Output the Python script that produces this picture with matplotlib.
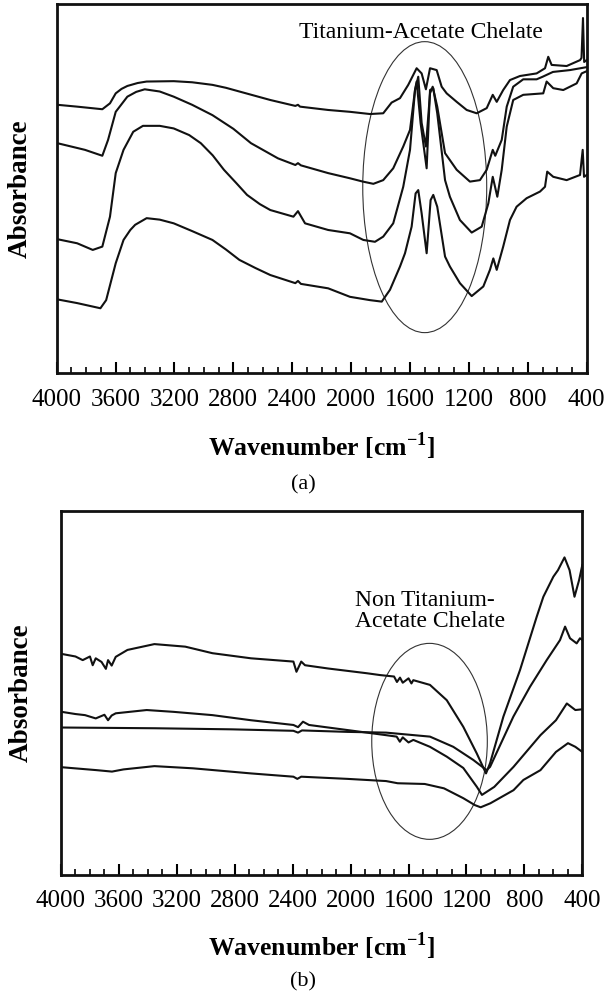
import matplotlib
matplotlib.use("Agg")
import matplotlib.pyplot as plt
from matplotlib.patches import Ellipse
from matplotlib.ticker import MultipleLocator

plt.rcParams['font.family'] = ['Liberation Serif', 'DejaVu Serif']
plt.rcParams['mathtext.fontset'] = 'custom'
plt.rcParams['mathtext.rm'] = 'Liberation Serif'
plt.rcParams['mathtext.bf'] = 'Liberation Serif:bold'

# ---- panel (a): titanium-acetate chelate spectra (arbitrary absorbance) ----
a1_wn = [3995, 3861, 3690, 3638, 3599, 3560, 3520, 3450, 3389, 3205, 3080, 2942, 2850, 2759, 2549,
         2379, 2361, 2347, 2156, 2008, 1872, 1782, 1725, 1668, 1612, 1555, 1521, 1492, 1464, 1419,
         1385, 1351, 1283, 1215, 1147, 1079, 1038, 1011, 967, 921, 853, 740, 683, 661, 638, 536,
         445, 435, 425, 417, 400]
a1_ab = [0.727, 0.722, 0.715, 0.731, 0.758, 0.770, 0.778, 0.786, 0.790, 0.791, 0.788, 0.781, 0.773, 0.763, 0.740,
         0.724, 0.727, 0.722, 0.713, 0.708, 0.702, 0.704, 0.733, 0.745, 0.781, 0.826, 0.812, 0.769, 0.826, 0.821,
         0.776, 0.758, 0.735, 0.713, 0.704, 0.718, 0.754, 0.735, 0.767, 0.794, 0.805, 0.812, 0.826, 0.857, 0.835,
         0.832, 0.848, 0.854, 0.962, 0.843, 0.848]

a2_wn = [3995, 3808, 3690, 3651, 3599, 3520, 3460, 3402, 3300, 3205, 3080, 2942, 2800, 2680, 2497,
         2379, 2361, 2341, 2156, 2008, 1920, 1849, 1782, 1714, 1646, 1600, 1566, 1544, 1521, 1492,
         1464, 1446, 1415, 1362, 1283, 1193, 1125, 1079, 1038, 1021, 977, 943, 899, 831, 740, 699,
         629, 514, 400]
a2_ab = [0.623, 0.605, 0.589, 0.632, 0.708, 0.749, 0.762, 0.769, 0.763, 0.749, 0.727, 0.699, 0.662, 0.623, 0.582,
         0.564, 0.569, 0.563, 0.542, 0.528, 0.519, 0.513, 0.523, 0.555, 0.614, 0.659, 0.767, 0.803, 0.678, 0.614,
         0.758, 0.776, 0.722, 0.596, 0.551, 0.519, 0.523, 0.551, 0.605, 0.589, 0.632, 0.722, 0.776, 0.796, 0.796,
         0.803, 0.816, 0.821, 0.829]

a3_wn = [3995, 3861, 3755, 3690, 3638, 3599, 3546, 3480, 3414, 3300, 3205, 3100, 3021, 2940, 2864,
         2780, 2707, 2620, 2549, 2392, 2361, 2313, 2156, 2008, 1917, 1838, 1782, 1714, 1646, 1600,
         1566, 1555, 1528, 1487, 1464, 1442, 1415, 1362, 1329, 1261, 1181, 1113, 1068, 1038, 1007,
         977, 943, 899, 831, 695, 672, 627, 559, 468, 434, 400]
a3_ab = [0.363, 0.352, 0.334, 0.343, 0.424, 0.542, 0.605, 0.654, 0.670, 0.670, 0.663, 0.645, 0.623, 0.590, 0.551,
         0.515, 0.483, 0.458, 0.442, 0.424, 0.439, 0.406, 0.388, 0.379, 0.361, 0.356, 0.370, 0.406, 0.505, 0.605,
         0.767, 0.790, 0.677, 0.555, 0.767, 0.772, 0.704, 0.523, 0.478, 0.415, 0.381, 0.397, 0.460, 0.532, 0.478,
         0.551, 0.668, 0.740, 0.754, 0.758, 0.790, 0.772, 0.767, 0.785, 0.812, 0.818]

a4_wn = [3995, 3861, 3703, 3664, 3599, 3546, 3500, 3467, 3389, 3300, 3205, 3080, 2942, 2850, 2759,
         2650, 2549, 2379, 2361, 2341, 2156, 2008, 1872, 1792, 1736, 1668, 1634, 1589, 1562, 1544,
         1521, 1487, 1460, 1442, 1415, 1362, 1329, 1261, 1181, 1102, 1057, 1034, 1011, 967, 921,
         876, 808, 717, 683, 668, 627, 536, 445, 427, 418, 400]
a4_ab = [0.200, 0.190, 0.176, 0.198, 0.298, 0.361, 0.388, 0.402, 0.420, 0.416, 0.406, 0.385, 0.361, 0.335, 0.307,
         0.285, 0.266, 0.244, 0.250, 0.242, 0.230, 0.207, 0.198, 0.194, 0.226, 0.289, 0.325, 0.397, 0.487, 0.496,
         0.433, 0.325, 0.469, 0.483, 0.451, 0.316, 0.289, 0.244, 0.209, 0.235, 0.280, 0.311, 0.280, 0.343, 0.415,
         0.451, 0.474, 0.492, 0.505, 0.546, 0.532, 0.523, 0.537, 0.605, 0.532, 0.537]

# ---- panel (b): non titanium-acetate chelate spectra ----
b1_wn = [3995, 3900, 3850, 3800, 3781, 3760, 3720, 3690, 3675, 3650, 3622, 3541, 3355, 3142, 2954,
         2688, 2395, 2374, 2341, 2315, 2155, 1888, 1797, 1700, 1680, 1659, 1640, 1600, 1580, 1567,
         1452, 1336, 1222, 1129, 1065, 1037, 945, 830, 715, 669, 600, 568, 523, 488, 454, 422, 400]
b1_ab = [0.607, 0.600, 0.590, 0.600, 0.576, 0.595, 0.585, 0.566, 0.590, 0.575, 0.599, 0.618, 0.634, 0.627, 0.609,
         0.595, 0.586, 0.558, 0.586, 0.576, 0.567, 0.554, 0.549, 0.545, 0.530, 0.542, 0.528, 0.540, 0.526, 0.535,
         0.522, 0.480, 0.407, 0.334, 0.279, 0.307, 0.435, 0.563, 0.709, 0.764, 0.819, 0.837, 0.872, 0.837, 0.764,
         0.810, 0.851]

b2_wn = [3995, 3900, 3834, 3760, 3700, 3675, 3650, 3622, 3408, 3222, 2954, 2688, 2395, 2363, 2329,
         2287, 2021, 1755, 1682, 1660, 1640, 1600, 1567, 1452, 1336, 1222, 1128, 1093, 1008, 875,
         689, 582, 507, 448, 400]
b2_ab = [0.448, 0.442, 0.439, 0.430, 0.440, 0.425, 0.438, 0.444, 0.453, 0.448, 0.439, 0.425, 0.412, 0.406, 0.421,
         0.412, 0.398, 0.384, 0.380, 0.366, 0.378, 0.364, 0.371, 0.352, 0.325, 0.294, 0.242, 0.220, 0.242, 0.297,
         0.384, 0.425, 0.471, 0.453, 0.455]

b3_wn = [3995, 3355, 2821, 2395, 2363, 2336, 2021, 1755, 1452, 1291, 1153, 1061, 1037, 876, 761,
         646, 554, 519, 485, 439, 416, 400]
b3_ab = [0.405, 0.403, 0.400, 0.396, 0.391, 0.397, 0.393, 0.391, 0.380, 0.352, 0.316, 0.288, 0.297, 0.435, 0.517,
         0.590, 0.645, 0.682, 0.650, 0.636, 0.650, 0.645]

b4_wn = [3995, 3755, 3648, 3568, 3355, 3088, 2688, 2395, 2368, 2341, 2021, 1755, 1675, 1488, 1355,
         1222, 1142, 1102, 1035, 875, 807, 689, 582, 499, 448, 400]
b4_ab = [0.296, 0.288, 0.284, 0.290, 0.299, 0.293, 0.279, 0.270, 0.264, 0.270, 0.264, 0.258, 0.252, 0.250, 0.238,
         0.211, 0.192, 0.186, 0.197, 0.233, 0.261, 0.288, 0.338, 0.362, 0.352, 0.338]

x_ticks = [4000, 3600, 3200, 2800, 2400, 2000, 1600, 1200, 800, 400]

fig = plt.figure(figsize=(6.05, 9.98), dpi=100)
ax1 = fig.add_axes([0.0937, 0.6260, 0.876, 0.370])
ax2 = fig.add_axes([0.1008, 0.1232, 0.8617, 0.365])

for wn, ab in [(a1_wn, a1_ab), (a2_wn, a2_ab), (a3_wn, a3_ab), (a4_wn, a4_ab)]:
    ax1.plot(wn, ab, color='#111111', lw=1.5)
for wn, ab in [(b1_wn, b1_ab), (b2_wn, b2_ab), (b3_wn, b3_ab), (b4_wn, b4_ab)]:
    ax2.plot(wn, ab, color='#111111', lw=1.5)

ax1.add_patch(Ellipse((1500, 0.504), 842, 0.788, fill=False, lw=0.8, color='#333333'))
ax2.add_patch(Ellipse((1455, 0.367), 798, 0.538, fill=False, lw=0.8, color='#333333'))

ax1.text(1525, 0.924, "Titanium-Acetate Chelate", fontsize=17, ha='center', va='center')
ax2.text(1970, 0.725, "Non Titanium-\nAcetate Chelate", fontsize=17, ha='left', va='center',
         linespacing=1.0)

for ax in (ax1, ax2):
    ax.set_xlim(4000, 400)
    ax.set_ylim(0, 1)
    ax.set_xticks(x_ticks)
    ax.xaxis.set_minor_locator(MultipleLocator(100))
    ax.set_yticks([])
    ax.tick_params(axis='x', which='major', direction='in', length=8, width=1.5,
                   labelsize=18, pad=11)
    ax.tick_params(axis='x', which='minor', direction='in', length=4, width=1.2)
    for s in ax.spines.values():
        s.set_linewidth(2.0)
        s.set_color('#111111')

xlab = r'Wavenumber [cm$^{\mathbf{-1}}$]'
fig.text(0.532, 0.5531, xlab, fontsize=18.5, fontweight='bold', ha='center', va='center')
fig.text(0.532, 0.0521, xlab, fontsize=18.5, fontweight='bold', ha='center', va='center')
fig.text(0.034, 0.811, 'Absorbance', fontsize=19.5, fontweight='bold', rotation=90,
         ha='center', va='center')
fig.text(0.035, 0.306, 'Absorbance', fontsize=19.5, fontweight='bold', rotation=90,
         ha='center', va='center')
fig.text(0.501, 0.514, '(a)', fontsize=16, ha='center', va='center')
fig.text(0.501, 0.016, '(b)', fontsize=16, ha='center', va='center')

fig.savefig('out.png', dpi=100)
